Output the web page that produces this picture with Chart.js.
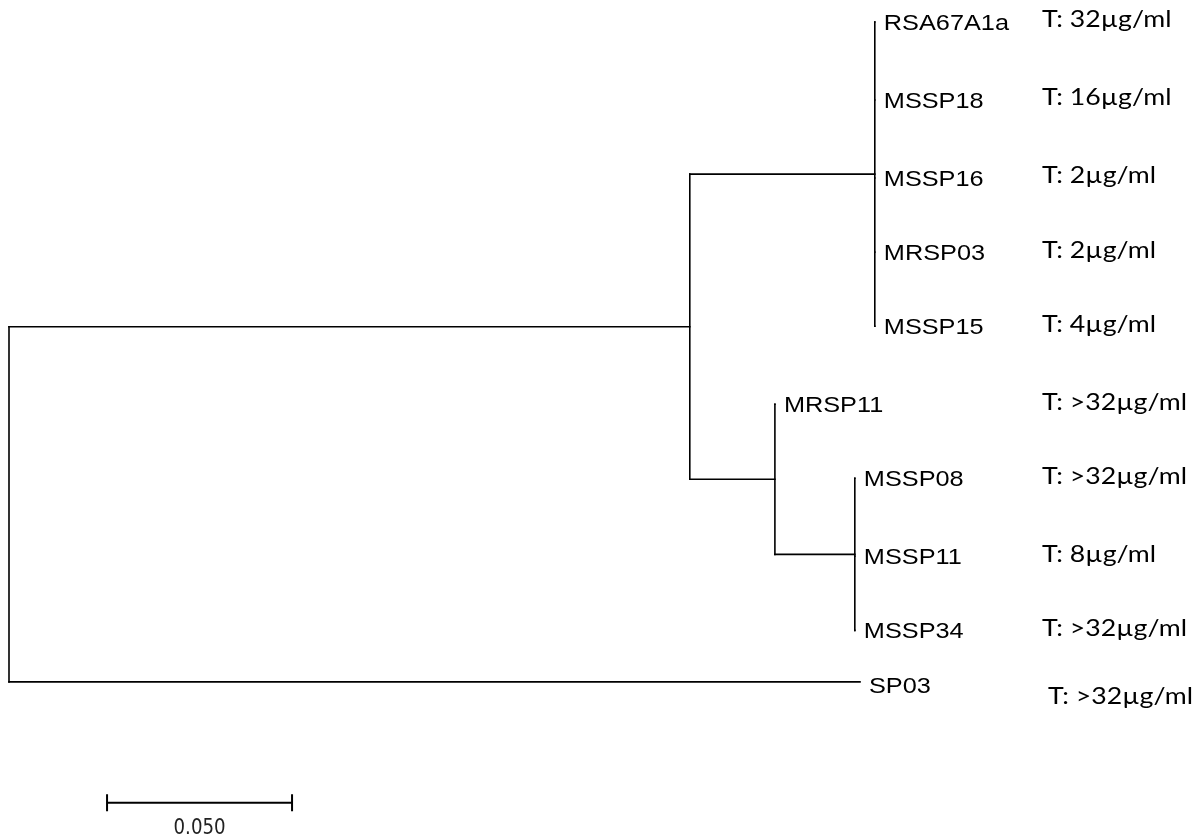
<!DOCTYPE html>
<html>
<head>
<meta charset="utf-8">
<script src="https://cdn.jsdelivr.net/npm/chart.js@4.4.1/dist/chart.umd.min.js"></script>
<style>
  body { margin: 0; background: #fff; }
  #tree { display: block; }
</style>
</head>
<body>
<canvas id="tree" width="1204" height="840"></canvas>
<script>
// taxa (tips) in drawing order
const taxa = ['RSA67A1a', 'MSSP18', 'MSSP16', 'MRSP03', 'MSSP15', 'MRSP11', 'MSSP08', 'MSSP11', 'MSSP34', 'SP03'];
const mic = ['T: 32µg/ml', 'T: 16µg/ml', 'T: 2µg/ml', 'T: 2µg/ml', 'T: 4µg/ml', 'T: >32µg/ml', 'T: >32µg/ml', 'T: 8µg/ml', 'T: >32µg/ml', 'T: >32µg/ml'];
// distance from root (substitutions/site)
const tipDepth = [0.2340, 0.2340, 0.2340, 0.2340, 0.2340, 0.2070, 0.2286, 0.2286, 0.2286, 0.2300];
const tipRow = [0, 1, 2, 2.95, 3.9, 4.9, 5.85, 6.85, 7.8, 8.46];
const tipParent = ['B', 'B', 'B', 'B', 'B', 'C', 'D', 'D', 'D', 'root'];

// internal nodes
const nodeName = ['root', 'A', 'B', 'C', 'D'];
const nodeDepth = [0, 0.1840, 0.2340, 0.2070, 0.2286];
const nodeParent = [null, 'root', 'A', 'A', 'C'];

// scale bar
const scaleLen = 0.05;
const scaleLabel = '0.050';

// --- build segments from the tree ---
function childrenOf(name) {
    const kids = [];
    nodeName.forEach((n, i) => { if (nodeParent[i] === name) kids.push({ node: true, i: i }); });
    taxa.forEach((t, i) => { if (tipParent[i] === name) kids.push({ node: false, i: i }); });
    return kids;
}
const rowCache = {};
function rowOf(k) {
    if (!k.node) return tipRow[k.i];
    const name = nodeName[k.i];
    if (rowCache[name] !== undefined) return rowCache[name];
    const rows = childrenOf(name).map(rowOf);
    rowCache[name] = (Math.min(...rows) + Math.max(...rows)) / 2;
    return rowCache[name];
}
function depthOf(k) { return k.node ? nodeDepth[k.i] : tipDepth[k.i]; }

const segments = [];
nodeName.forEach((name, i) => {
    const kids = childrenOf(name);
    const rows = kids.map(rowOf);
    const d = nodeDepth[i];
    segments.push([{ x: d, y: Math.min(...rows) }, { x: d, y: Math.max(...rows) }]);
    kids.forEach(k => {
        segments.push([{ x: d, y: rowOf(k) }, { x: depthOf(k), y: rowOf(k) }]);
    });
});

const scaleRow = 10.01;
const scaleStart = 0.0265;

const datasets = segments.map(s => ({
    data: s,
    showLine: true,
    borderColor: '#000',
    borderWidth: 1.6,
    borderCapStyle: 'square',
    pointRadius: 0
}));
// scale bar + end ticks
datasets.push({ data: [{ x: scaleStart, y: scaleRow }, { x: scaleStart + scaleLen, y: scaleRow }], showLine: true, borderColor: '#000', borderWidth: 2, pointRadius: 0 });
datasets.push({ data: [{ x: scaleStart, y: scaleRow - 0.11 }, { x: scaleStart, y: scaleRow + 0.11 }], showLine: true, borderColor: '#000', borderWidth: 2, pointRadius: 0 });
datasets.push({ data: [{ x: scaleStart + scaleLen, y: scaleRow - 0.11 }, { x: scaleStart + scaleLen, y: scaleRow + 0.11 }], showLine: true, borderColor: '#000', borderWidth: 2, pointRadius: 0 });

function stretchText(ctx, text, x, y, sx) {
    ctx.save();
    ctx.translate(x, y);
    ctx.scale(sx, 1);
    ctx.fillText(text, 0, 0);
    ctx.restore();
}

const labelPlugin = {
    id: 'treeLabels',
    afterDatasetsDraw(chart) {
        const ctx = chart.ctx;
        const xs = chart.scales.x, ys = chart.scales.y;
        ctx.save();
        ctx.fillStyle = '#000';
        ctx.textBaseline = 'middle';
        ctx.textAlign = 'left';
        const last = taxa.length - 1;
        taxa.forEach((t, i) => {
            ctx.font = '22px "Liberation Sans", Arial, sans-serif';
            const px = xs.getPixelForValue(tipDepth[i]) + 9;
            const py = ys.getPixelForValue(tipRow[i]) + (i === last ? 5 : 2);
            stretchText(ctx, t, px, py, 1.15);
        });
        taxa.forEach((t, i) => {
            ctx.font = '23px Lato, "Open Sans", sans-serif';
            const py = ys.getPixelForValue(tipRow[i]) + (i === last ? 15 : -2);
            stretchText(ctx, mic[i], i === last ? 1048 : 1042, py, 1.16);
        });
        // scale label, condensed
        ctx.font = '22px "Liberation Sans Narrow", "DejaVu Sans Condensed", sans-serif';
        ctx.fillStyle = '#222';
        const cx = (xs.getPixelForValue(scaleStart) + xs.getPixelForValue(scaleStart + scaleLen)) / 2;
        const w = ctx.measureText(scaleLabel).width;
        const sx = 52 / w;
        stretchText(ctx, scaleLabel, cx - 26, ys.getPixelForValue(scaleRow) + 26, sx);
        ctx.restore();
    }
};

document.addEventListener('DOMContentLoaded', function () {
    const ctx = document.getElementById('tree').getContext('2d');
    new Chart(ctx, {
        type: 'scatter',
        data: { datasets: datasets },
        options: {
            responsive: false,
            animation: false,
            layout: { padding: 0 },
            plugins: { legend: { display: false }, tooltip: { enabled: false } },
            scales: {
                x: { type: 'linear', display: false, min: -9 / 3700, max: 1195 / 3700 },
                y: { type: 'linear', display: false, reverse: true, min: -22 / 78, max: 818 / 78 }
            }
        },
        plugins: [labelPlugin]
    });
});
</script>
</body>
</html>
